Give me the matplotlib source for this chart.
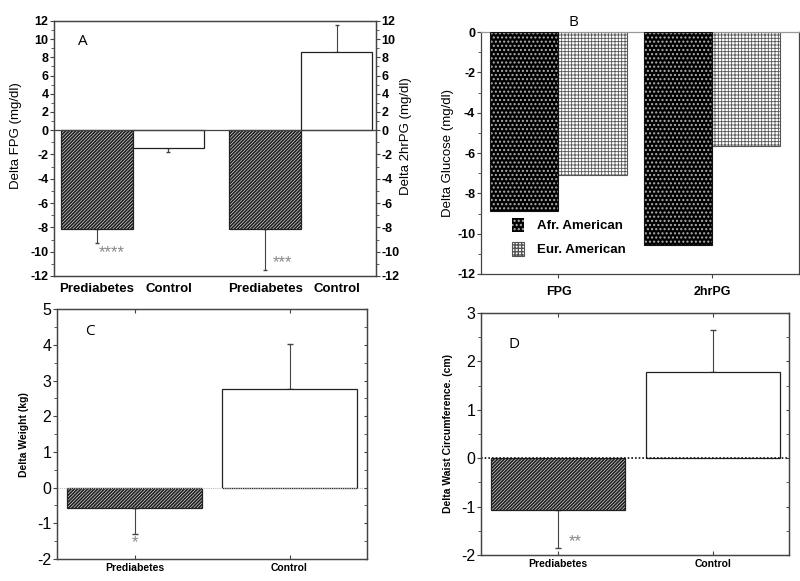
import numpy as np
import matplotlib
matplotlib.use("Agg")
from matplotlib import pyplot as plt
from matplotlib.ticker import MultipleLocator, NullFormatter

# データ
groups = ["Prediabetes", "Control"]
fpg = [-8.15, -1.45]
fpg_err = [1.1, 0.35]
hrpg = [-8.15, 8.55]
hrpg_err = [3.38, 3.05]

glu_cats = ["FPG", "2hrPG"]
afr = [-8.9, -10.55]
eur = [-7.1, -5.67]

weight = [-0.57, 2.77]
weight_err = [0.73, 1.25]
waist = [-1.07, 1.78]
waist_err = [0.79, 0.86]

plt.rcParams["font.family"] = ["Liberation Sans", "DejaVu Sans"]
plt.rcParams["axes.unicode_minus"] = False
SP = "#444444"
NARROW = ["Liberation Sans Narrow", "Liberation Sans"]

fig = plt.figure(figsize=(8, 5.81), dpi=100)


def frame(ax):
    for s in ax.spines.values():
        s.set_color(SP)
        s.set_linewidth(0.9)


def errs(vals, e):
    lo = [x if v < 0 else 0 for v, x in zip(vals, e)]
    hi = [x if v >= 0 else 0 for v, x in zip(vals, e)]
    return [lo, hi]


def hatched(ax, x, h, w):
    with plt.rc_context({"hatch.linewidth": 1.3}):
        ax.bar(x, h, w, color=["white", "white"], hatch=["/" * 10, None],
               edgecolor="#222222", linewidth=0.9, zorder=2)


# ---- A ----
k = 1.336
fwd = lambda y: np.where(y < 0, y * k, y)
inv = lambda y: np.where(y < 0, y / k, y)
axA = fig.add_axes([0.0675, 0.525, 0.4025, 0.439])
frame(axA)
xa1 = np.array([0, 1])
xa2 = np.array([2.35, 3.35])
hatched(axA, xa1, fpg, 1.0)
hatched(axA, xa2, hrpg, 1.0)
axA.errorbar(xa1, fpg, yerr=errs(fpg, fpg_err), fmt="none", ecolor=SP,
             elinewidth=0.8, capsize=1.5, zorder=1)
axA.errorbar(xa2, hrpg, yerr=errs(hrpg, hrpg_err), fmt="none", ecolor=SP,
             elinewidth=0.8, capsize=1.5, zorder=1)
axA.axhline(0, color=SP, lw=0.9, zorder=3)
axA.set_yscale("function", functions=(fwd, inv))
axA.set_ylim(-12, 12)
axA.set_xlim(-0.6, 3.9)
axA.yaxis.set_major_locator(MultipleLocator(2))
axA.yaxis.set_minor_locator(MultipleLocator(1))
axA.yaxis.set_minor_formatter(NullFormatter())
axA.set_xticks(list(xa1) + list(xa2))
axA.set_xticklabels(groups + groups, fontsize=9.5, fontweight="bold")
axA.tick_params(axis="x", length=0, pad=5)
axA.tick_params(axis="y", labelsize=9, direction="out", length=3, color=SP, pad=1)
axA.tick_params(axis="y", which="minor", length=2, color=SP)
for t in axA.get_yticklabels():
    t.set_fontweight("bold")
axA.set_ylabel("Delta FPG (mg/dl)", fontsize=9.5)
axA.yaxis.set_label_coords(-0.1, 0.55)
axA2 = axA.twinx()
axA2.set_yscale("function", functions=(fwd, inv))
axA2.set_ylim(-12, 12)
axA2.yaxis.set_major_locator(MultipleLocator(2))
axA2.yaxis.set_minor_locator(MultipleLocator(1))
axA2.yaxis.set_minor_formatter(NullFormatter())
axA2.tick_params(axis="y", labelsize=9, direction="out", length=3, color=SP, pad=1)
axA2.tick_params(axis="y", which="minor", length=2, color=SP)
for t in axA2.get_yticklabels():
    t.set_fontweight("bold")
axA2.set_ylabel("Delta 2hrPG (mg/dl)", fontsize=9.5)
axA2.yaxis.set_label_coords(1.075, 0.55)
frame(axA2)
axA.text(0.075, 0.92, "A", transform=axA.transAxes, fontsize=11,
         family="Open Sans", va="center", ha="left")
axA.text(0.2, -10.1, "****", color="#888888", fontsize=12, ha="center", va="center")
axA.text(2.6, -10.9, "***", color="#888888", fontsize=12, ha="center", va="center")

# ---- B ----
axB = fig.add_axes([0.601, 0.5284, 0.3975, 0.4165])
frame(axB)
axB.spines["top"].set_color("#999999")
xb = np.arange(len(glu_cats))
bw = 0.445
with plt.rc_context({"hatch.linewidth": 1.0}):
    axB.bar(xb - bw / 2, afr, bw, color="black", edgecolor="#b0b0b0", hatch="....",
            linewidth=0, zorder=2, label="Afr. American")
with plt.rc_context({"hatch.linewidth": 0.6}):
    axB.bar(xb + bw / 2, eur, bw, color="white", edgecolor="#555555", hatch="+++++",
            linewidth=0.8, zorder=2, label="Eur. American")
axB.bar(xb - bw / 2, afr, bw, fill=False, edgecolor="#111111", linewidth=0.8, zorder=3)
axB.set_ylim(-12, 0)
axB.set_xlim(-0.506, 1.565)
axB.set_xticks(xb)
axB.set_xticklabels(glu_cats, fontsize=9, fontweight="bold")
axB.yaxis.set_major_locator(MultipleLocator(2))
axB.yaxis.set_minor_locator(MultipleLocator(1))
axB.tick_params(axis="x", length=3, color=SP, pad=6)
axB.tick_params(axis="y", labelsize=9, direction="out", length=3, color=SP, pad=1,
                right=True, which="both")
axB.tick_params(axis="y", which="minor", length=2, color=SP)
for t in axB.get_yticklabels():
    t.set_fontweight("bold")
axB.set_ylabel("Delta Glucose (mg/dl)", fontsize=9.5, labelpad=2)
axB.set_title("B", fontsize=11, family="Open Sans", pad=4, x=0.29)
axB.legend(loc="upper left", bbox_to_anchor=(0.06, 0.28), frameon=False,
           prop={"size": 9.5, "weight": "bold"}, handlelength=0.9,
           handleheight=1.2, labelspacing=0.75, handletextpad=1.0)

# ---- C ----
axC = fig.add_axes([0.07125, 0.0379, 0.3875, 0.430])
frame(axC)
xc = np.arange(len(groups))
hatched(axC, xc, weight, 0.87)
axC.errorbar(xc, weight, yerr=errs(weight, weight_err), fmt="none", ecolor=SP,
             elinewidth=0.8, capsize=2.5, zorder=1)
axC.axhline(0, color="#bbbbbb", lw=0.8, ls=(0, (1, 1)), zorder=3)
axC.set_ylim(-2, 5)
axC.set_xlim(-0.5, 1.5)
axC.set_xticks(xc)
axC.set_xticklabels(groups, fontsize=7.5, fontweight="bold", family=NARROW)
axC.yaxis.set_major_locator(MultipleLocator(1))
axC.yaxis.set_minor_locator(MultipleLocator(0.5))
axC.tick_params(axis="x", length=3, color=SP, direction="in", top=True, pad=3)
axC.tick_params(axis="y", labelsize=11.5, direction="out", length=3, color=SP, pad=1)
axC.tick_params(axis="y", which="minor", length=2, color=SP)
axC.set_ylabel("Delta Weight (kg)", fontsize=7.5, fontweight="bold",
               family=NARROW, labelpad=6)
axC.text(0.09, 0.91, "C", transform=axC.transAxes, fontsize=11,
         family="Open Sans", va="center", ha="left")
axC.text(0, -1.55, "*", color="#888888", fontsize=12, ha="center", va="center")
axC2 = axC.twinx()
axC2.set_ylim(-2, 5)
axC2.yaxis.set_major_locator(MultipleLocator(1))
axC2.yaxis.set_minor_locator(MultipleLocator(0.5))
axC2.tick_params(axis="y", which="both", direction="in", length=2.5, color=SP,
                 labelright=False)
frame(axC2)

# ---- D ----
axD = fig.add_axes([0.601, 0.0448, 0.385, 0.4165])
frame(axD)
xd = np.arange(len(groups))
hatched(axD, xd, waist, 0.865)
axD.errorbar(xd, waist, yerr=errs(waist, waist_err), fmt="none", ecolor=SP,
             elinewidth=0.8, capsize=2.5, zorder=1)
axD.axhline(0, color="#111111", lw=1.2, ls=(0, (1, 1.2)), zorder=3)
axD.set_ylim(-2, 3)
axD.set_xlim(-0.5, 1.49)
axD.set_xticks(xd)
axD.set_xticklabels(groups, fontsize=7.5, fontweight="bold", family=NARROW)
axD.yaxis.set_major_locator(MultipleLocator(1))
axD.yaxis.set_minor_locator(MultipleLocator(0.5))
axD.tick_params(axis="x", length=3, color=SP, direction="in", top=True, pad=3)
axD.tick_params(axis="y", labelsize=11.5, direction="out", length=3, color=SP, pad=1)
axD.tick_params(axis="y", which="minor", length=2, color=SP)
axD.set_ylabel("Delta Waist Circumference. (cm)", fontsize=7.5, fontweight="bold",
               family=NARROW, labelpad=6)
axD.text(0.09, 0.87, "D", transform=axD.transAxes, fontsize=11,
         family="Open Sans", va="center", ha="left")
axD.text(0.11, -1.72, "**", color="#888888", fontsize=12, ha="center", va="center")
axD2 = axD.twinx()
axD2.set_ylim(-2, 3)
axD2.yaxis.set_major_locator(MultipleLocator(1))
axD2.yaxis.set_minor_locator(MultipleLocator(0.5))
axD2.tick_params(axis="y", which="both", direction="in", length=2.5, color=SP,
                 labelright=False)
frame(axD2)

fig.savefig("out.png", dpi=100)
